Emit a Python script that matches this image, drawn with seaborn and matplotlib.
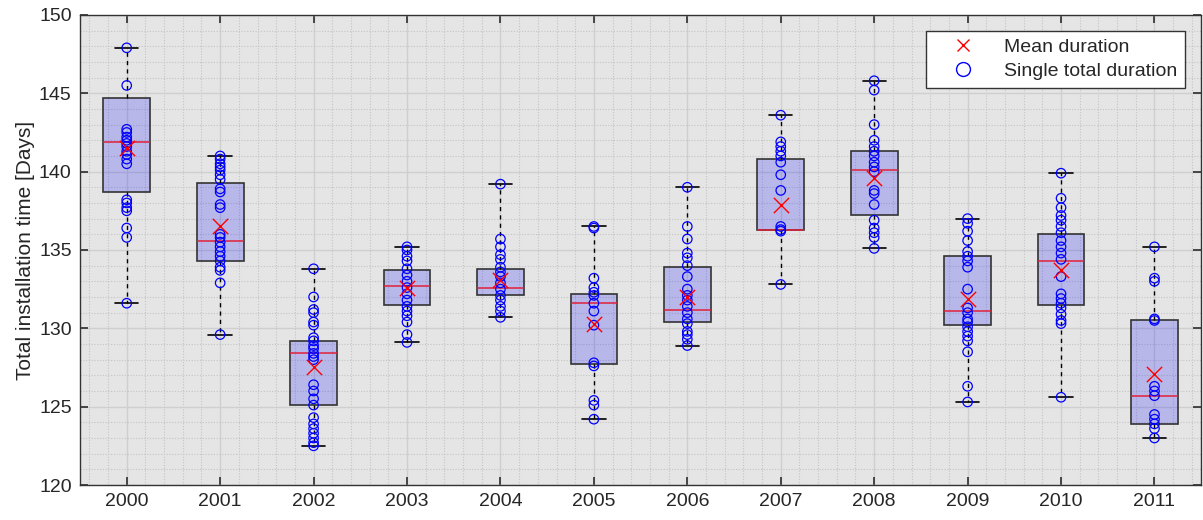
import matplotlib
matplotlib.use("Agg")
import matplotlib.pyplot as plt
from matplotlib.lines import Line2D
from matplotlib.ticker import MultipleLocator
import seaborn as sns
import pandas as pd

years = [str(y) for y in range(2000, 2012)]

# single total durations per year
p2000 = [147.9, 145.5, 142.7, 142.5, 142.2, 142.0, 141.8, 141.6, 141.3, 141.1, 140.8, 140.5,
         138.2, 138.0, 137.7, 137.5, 136.4, 135.8, 131.6]
p2001 = [141.0, 140.8, 140.5, 140.3, 140.1, 139.8, 139.5, 138.9, 138.7, 137.9, 137.7, 136.0,
         135.8, 135.5, 135.2, 134.9, 134.6, 134.3, 133.9, 133.7, 132.9, 129.6]
p2002 = [133.8, 132.0, 131.2, 131.0, 130.4, 130.2, 129.4, 129.2, 128.9, 128.7, 128.4, 128.2,
         128.0, 126.4, 126.0, 125.5, 125.1, 124.3, 123.9, 123.6, 123.3, 123.0, 122.7, 122.5]
p2003 = [135.2, 135.0, 134.6, 134.3, 133.8, 133.4, 133.0, 132.6, 132.2, 131.8, 131.4, 131.1,
         130.8, 130.4, 129.6, 129.1]
p2004 = [139.2, 135.7, 135.2, 134.7, 134.4, 133.9, 133.6, 133.3, 132.9, 132.5, 132.1, 131.8,
         131.4, 131.1, 130.7]
p2005 = [136.5, 136.4, 133.2, 132.6, 132.3, 132.1, 131.6, 131.1, 130.2, 127.8, 127.6, 125.4,
         125.1, 124.2]
p2006 = [139.0, 136.5, 135.7, 134.8, 134.5, 134.0, 133.3, 132.5, 132.1, 131.8, 131.4, 131.0,
         130.6, 130.3, 129.8, 129.6, 129.3, 128.9]
p2007 = [143.6, 141.9, 141.6, 141.3, 141.0, 140.6, 139.8, 138.8, 136.5, 136.3, 136.2, 132.8]
p2008 = [145.8, 145.2, 143.0, 142.0, 141.6, 141.3, 141.0, 140.6, 140.3, 140.0, 138.8, 138.6,
         137.9, 136.9, 136.4, 136.1, 135.8, 135.1]
p2009 = [137.0, 136.7, 136.2, 135.6, 134.9, 134.6, 134.3, 133.9, 132.5, 131.3, 131.0, 130.6,
         130.4, 130.1, 129.8, 129.5, 129.2, 128.5, 126.3, 125.3]
p2010 = [139.9, 138.3, 137.7, 137.2, 136.9, 136.5, 136.1, 135.6, 135.2, 134.8, 134.4, 133.3,
         132.2, 131.9, 131.6, 131.3, 130.9, 130.5, 130.3, 125.6]
p2011 = [135.2, 133.2, 133.0, 130.6, 130.5, 126.3, 126.0, 125.7, 124.5, 124.2, 123.9, 123.6, 123.0]

points = [p2000, p2001, p2002, p2003, p2004, p2005, p2006, p2007, p2008, p2009, p2010, p2011]

# box statistics
q1 = [138.7, 134.3, 125.1, 131.5, 132.1, 127.7, 130.4, 136.3, 137.2, 130.2, 131.5, 123.9]
med = [141.9, 135.6, 128.4, 132.7, 132.6, 131.6, 131.2, 136.3, 140.1, 131.1, 134.3, 125.7]
q3 = [144.7, 139.3, 129.2, 133.7, 133.8, 132.2, 133.9, 140.8, 141.3, 134.6, 136.0, 130.5]
lo = [131.6, 129.6, 122.5, 129.1, 130.7, 124.2, 128.9, 132.8, 135.1, 125.3, 125.6, 123.0]
hi = [147.9, 141.0, 133.8, 135.2, 139.2, 136.5, 139.0, 143.6, 145.8, 137.0, 139.9, 135.2]
means = [141.5, 136.5, 127.5, 132.6, 133.1, 130.3, 132.0, 137.9, 139.6, 131.9, 133.7, 127.1]

sns.set_theme(style="white")
plt.rcParams['font.family'] = ['Liberation Sans', 'DejaVu Sans']

df = pd.DataFrame([(y, v) for y, vals in zip(years, points) for v in vals], columns=['year', 'duration'])
df_mean = pd.DataFrame({'year': years, 'mean': means})

fig = plt.figure(figsize=(12.03, 5.2), dpi=100)
ax = fig.add_axes([0.0665, 0.0673, 0.932, 0.904])
ax.set_facecolor('#e5e5e5')
ax.set_axisbelow(True)

# boxes: quartiles, whiskers from min to max
stats = [dict(med=m, q1=a, q3=b, whislo=l, whishi=h, fliers=[])
         for m, a, b, l, h in zip(med, q1, q3, lo, hi)]
ax.bxp(stats, positions=range(len(years)), widths=0.5, patch_artist=True, manage_ticks=False,
       boxprops=dict(facecolor=(0, 0, 1, 0.2), edgecolor='#333333', linewidth=1.2),
       medianprops=dict(color='#e0203a', linewidth=1.1),
       whiskerprops=dict(color='black', linewidth=1.0, linestyle=(0, (3, 3))),
       capprops=dict(color='black', linewidth=1.2), showfliers=False, zorder=2)

n0 = len(ax.collections)
sns.stripplot(data=df, x='year', y='duration', order=years, jitter=False, size=6.8,
              ax=ax, zorder=3)
for pts in ax.collections[n0:]:
    pts.set_facecolor('none')
    pts.set_edgecolor('blue')
    pts.set_linewidth(0.9)

n1 = len(ax.collections)
sns.stripplot(data=df_mean, x='year', y='mean', order=years, jitter=False, size=11,
              marker='x', ax=ax, zorder=4)
for mk in ax.collections[n1:]:
    mk.set_edgecolor('red')
    mk.set_facecolor('red')
    mk.set_linewidth(1.0)

# grid (major solid, minor dotted), like MATLAB
ax.yaxis.set_major_locator(MultipleLocator(5))
ax.yaxis.set_minor_locator(MultipleLocator(1))
ax.xaxis.set_minor_locator(MultipleLocator(0.2))
ax.grid(which='major', color='#cfcfcf', linewidth=1.0)
ax.grid(which='minor', color='#c4c4c4', linewidth=0.8, linestyle=(0, (1, 1.5)))

ax.set_xlim(-0.5, 11.5)
ax.set_ylim(120, 150)
ax.set_xticks(range(len(years)))
ax.set_xticklabels(years)
ax.set_xlabel('')
ax.set_ylabel('Total installation time [Days]', fontsize=15, labelpad=3, color='#262626')
ax.tick_params(axis='both', which='major', labelsize=14, direction='in', length=6,
               color='#333333', labelcolor='#262626', bottom=True, left=True, top=True,
               right=True, pad=6)
ax.tick_params(axis='both', which='minor', length=0)
for s in ax.spines.values():
    s.set_color('#333333')
    s.set_linewidth(1.0)

handles = [Line2D([], [], marker='x', color='red', linestyle='none', markersize=8, markeredgewidth=1.0),
           Line2D([], [], marker='o', color='blue', markerfacecolor='none', linestyle='none',
                  markersize=10, markeredgewidth=1.0)]
leg = ax.legend(handles, ['Mean duration', 'Single total duration'], loc='upper right',
                fontsize=14, fancybox=False, framealpha=1, edgecolor='#333333',
                handlelength=3.0, handletextpad=0.6, borderpad=0.4, labelspacing=0.3,
                borderaxespad=0, bbox_to_anchor=(0.9857, 0.966))
leg.get_frame().set_linewidth(1.0)

fig.savefig('out.png', dpi=100)
